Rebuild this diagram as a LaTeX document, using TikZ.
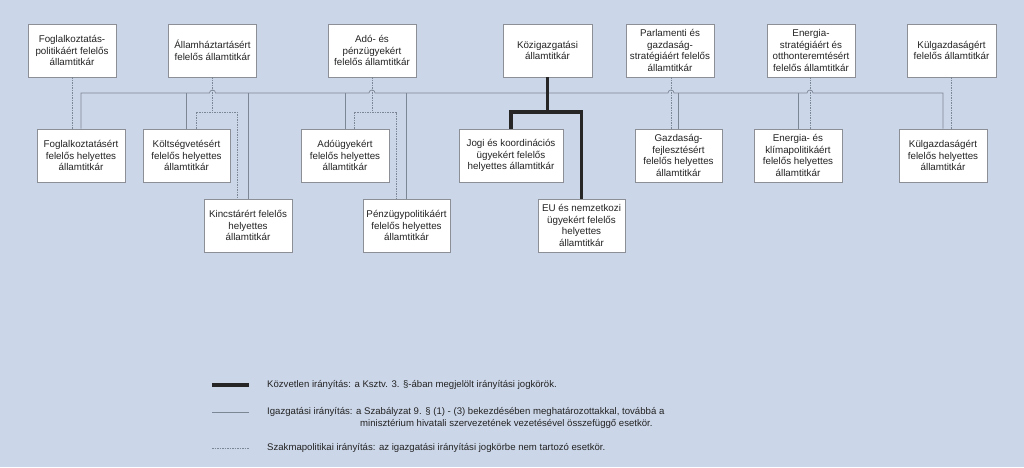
\documentclass[tikz,border=0pt]{standalone}
\usepackage{fontspec}
\setmainfont{Liberation Sans}
\usepackage{xcolor}
\usetikzlibrary{positioning}

\definecolor{hatter}{RGB}{203,214,232}
\definecolor{keret}{RGB}{140,144,150}
\definecolor{vonal}{RGB}{125,134,148}
\definecolor{szoveg}{RGB}{35,35,35}

\begin{document}
\begin{tikzpicture}[x=1pt, y=-1pt,
    box/.style={draw=keret, fill=white, line width=0.7pt, minimum width=88pt,
        minimum height=53pt, align=center, inner sep=1pt, text=szoveg,
        font=\fontsize{9.8}{11.5}\selectfont},
    kozvetlen/.style={draw=black!85, line width=3.2pt},
    igazgatasi/.style={draw=vonal, line width=0.7pt},
    szakma/.style={draw=vonal, line width=0.7pt, dash pattern=on 1.5pt off 1pt},
    jel/.style={anchor=west, align=left, inner sep=0pt, text=szoveg,
        font=\fontsize{9.6}{12}\selectfont}]

    % Background
    \fill[hatter] (0,0) rectangle (1024,467);
    \useasboundingbox (0,0) rectangle (1024,467);

    % Top row: allamtitkarok
    \node[box] (t1) at (72,50.5) {Foglalkoztatás-\\politikáért felelős\\államtitkár};
    \node[box] (t2) at (212.5,50.5) {Államháztartásért\\felelős államtitkár};
    \node[box] (t3) at (372,50.5) {Adó- és\\pénzügyekért\\felelős államtitkár};
    \node[box, minimum width=89pt] (t4) at (547.5,50.5) {Közigazgatási\\államtitkár};
    \node[box] (t5) at (670,50.5) {Parlamenti és\\gazdaság-\\stratégiáért felelős\\államtitkár};
    \node[box] (t6) at (811,50.5) {Energia-\\stratégiáért és\\otthonteremtésért\\felelős államtitkár};
    \node[box, minimum width=89pt] (t7) at (951.5,50.5) {Külgazdaságért\\felelős államtitkár};

    % Middle row: helyettes allamtitkarok
    \node[box] (m1) at (81,155.5) {Foglalkoztatásért\\felelős helyettes\\államtitkár};
    \node[box, minimum width=87pt] (m2) at (186.5,155.5) {Költségvetésért\\felelős helyettes\\államtitkár};
    \node[box] (m3) at (345,155.5) {Adóügyekért\\felelős helyettes\\államtitkár};
    \node[box, minimum width=104pt] (m4) at (511,155.5) {Jogi és koordinációs\\ügyekért felelős\\helyettes államtitkár};
    \node[box, minimum width=87pt] (m5) at (678.5,155.5) {Gazdaság-\\fejlesztésért\\felelős helyettes\\államtitkár};
    \node[box] (m6) at (798,155.5) {Energia- és\\klímapolitikáért\\felelős helyettes\\államtitkár};
    \node[box] (m7) at (943,155.5) {Külgazdaságért\\felelős helyettes\\államtitkár};

    % Bottom row
    \node[box] (b1) at (248,225.5) {Kincstárért felelős\\helyettes\\államtitkár};
    \node[box, minimum width=87pt] (b2) at (406.5,225.5) {Pénzügypolitikáért\\felelős helyettes\\államtitkár};
    \node[box, minimum width=87pt] (b3) at (581.5,225.5) {EU és nemzetkozi\\ügyekért felelős\\helyettes\\államtitkár};

    \coordinate (bus) at (0,93);
    \coordinate (split) at (0,112);

    % Igazgatasi iranyitas (bus with line jumps)
    \draw[igazgatasi] (m1.north) |- ([xshift=-3pt]t2.south |- bus)
        arc[start angle=180, end angle=0, radius=3pt]
        -- ([xshift=-3pt]t3.south |- bus)
        arc[start angle=180, end angle=0, radius=3pt]
        -- ([xshift=-2pt]t5.south |- bus)
        arc[start angle=180, end angle=0, radius=3pt]
        -- ([xshift=-4pt]t6.south |- bus)
        arc[start angle=180, end angle=0, radius=3pt]
        -| (m7.north);
    \foreach \n in {m2,m3,m5,m6,b1,b2}
        \draw[igazgatasi] (\n.north) -- (\n.north |- bus);

    % Szakmapolitikai iranyitas
    \draw[szakma] (t1.south) -- (t1.south |- m1.north);
    \draw[szakma] (t2.south) -- (t2.south |- split);
    \draw[szakma] ([xshift=9.5pt]m2.north) |- ([xshift=-11pt]b1.north |- split) -- ([xshift=-11pt]b1.north);
    \draw[szakma] (t3.south) -- (t3.south |- split);
    \draw[szakma] ([xshift=9pt]m3.north) |- ([xshift=-10.5pt]b2.north |- split) -- ([xshift=-10.5pt]b2.north);
    \draw[szakma] ([xshift=1pt]t5.south) -- ([xshift=1pt]t5.south |- m5.north);
    \draw[szakma] ([xshift=-1pt]t6.south) -- ([xshift=-1pt]t6.south |- m6.north);
    \draw[szakma] (t7.south) -- (t7.south |- m7.north);

    % Kozvetlen iranyitas
    \coordinate (k) at (t4.south |- split);
    \draw[kozvetlen] (t4.south) -- (k);
    \draw[kozvetlen, line join=miter] (m4.north) |- (k) -| (b3.north);

    % Legend
    \node[jel] (l1) at (267,385) {Közvetlen irányítás: a Ksztv. 3. §-ában megjelölt irányítási jogkörök.};
    \node[jel, anchor=north west] (l2) at (267,407.5) {Igazgatási irányítás: a Szabályzat 9. § (1) - (3) bekezdésében meghatározottakkal, továbbá a\\\hspace*{93pt}minisztérium hivatali szervezetének vezetésével összefüggő esetkör.};
    \node[jel] (l3) at (267,448) {Szakmapolitikai irányítás: az igazgatási irányítási jogkörbe nem tartozó esetkör.};
    \draw[kozvetlen] ([xshift=-55pt]l1.west) -- ([xshift=-18pt]l1.west);
    \draw[igazgatasi] ([xshift=-55pt]l2.north west) ++(0,4.5) -- ++(37,0);
    \draw[szakma] ([xshift=-55pt]l3.west) -- ([xshift=-18pt]l3.west);
\end{tikzpicture}
\end{document}
